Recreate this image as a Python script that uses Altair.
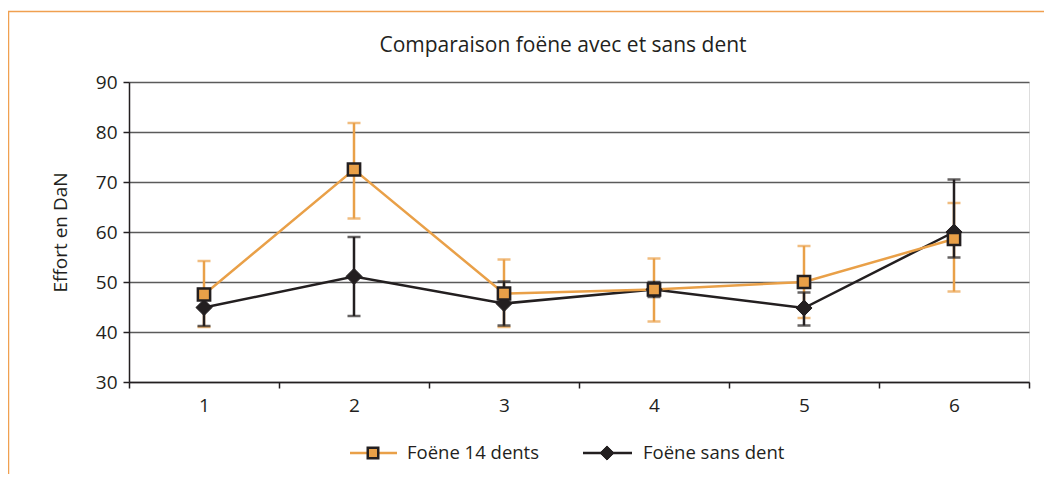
import altair as alt
import pandas as pd

categories = ["1", "2", "3", "4", "5", "6"]
series_names = ["Foëne 14 dents", "Foëne sans dent"]
chart_title = "Comparaison foëne avec et sans dent"

orange_mean = [47.5, 72.5, 47.7, 48.5, 50.0, 58.6]
orange_low = [41.0, 62.7, 41.0, 42.1, 42.8, 48.1]
orange_high = [54.2, 81.8, 54.5, 54.7, 57.2, 65.8]

black_mean = [44.9, 51.1, 45.7, 48.5, 44.8, 60.0]
black_low = [41.2, 43.2, 41.3, 47.0, 41.3, 54.9]
black_high = [48.6, 59.0, 50.1, 50.0, 47.9, 70.5]

ORANGE = "#E9A048"
BLACK = "#231F20"
FONT = "Open Sans"

df_o = pd.DataFrame({"cat": categories, "mean": orange_mean, "low": orange_low, "high": orange_high})
df_b = pd.DataFrame({"cat": categories, "mean": black_mean, "low": black_low, "high": black_high})

x_enc = alt.X("cat:N", sort=categories,
              scale=alt.Scale(type="band", paddingInner=0, paddingOuter=0),
              axis=alt.Axis(title=None, tickBand="extent", labelAngle=0, grid=False,
                            domainColor=BLACK, domainWidth=1.5, tickColor=BLACK,
                            tickWidth=1.5, tickSize=6, labelPadding=8,
                            labelFontSize=19, labelColor=BLACK, labelFont=FONT))
y_scale = alt.Scale(domain=[30, 90], nice=False, zero=False)
y_axis = alt.Axis(title="Effort en DaN", values=[30, 40, 50, 60, 70, 80, 90],
                  grid=True, gridColor="#5a5a5a", gridWidth=1.5,
                  domainColor=BLACK, domainWidth=1.5, tickColor=BLACK, tickWidth=1.5,
                  tickSize=6, labelPadding=6, labelFontSize=19, labelColor=BLACK,
                  labelFont=FONT, titleFont=FONT, titleFontSize=19, titleFontWeight="normal",
                  titleColor=BLACK, titlePadding=25)


def err_layers(df, color):
    base = alt.Chart(df)
    rule = base.mark_rule(color=color, strokeWidth=2.5).encode(
        x=x_enc, y=alt.Y("low:Q", scale=y_scale, axis=y_axis), y2="high:Q")
    cap_lo = base.mark_tick(color=color, thickness=2.5, size=13, orient="horizontal").encode(
        x=x_enc, y=alt.Y("low:Q", scale=y_scale))
    cap_hi = base.mark_tick(color=color, thickness=2.5, size=13, orient="horizontal").encode(
        x=x_enc, y=alt.Y("high:Q", scale=y_scale))
    return rule + cap_lo + cap_hi


def line_layer(df, color):
    return alt.Chart(df).mark_line(color=color, strokeWidth=2.5).encode(
        x=x_enc, y=alt.Y("mean:Q", scale=y_scale, axis=y_axis))


sq = alt.Chart(df_o).mark_point(shape="square", filled=True, fill=ORANGE, stroke=BLACK,
                                strokeWidth=2.5, size=150, opacity=1).encode(
    x=x_enc, y=alt.Y("mean:Q", scale=y_scale))
dia = alt.Chart(df_b).mark_point(shape="diamond", filled=True, fill=BLACK, stroke=BLACK,
                                 strokeWidth=1, size=260, opacity=1).encode(
    x=x_enc, y=alt.Y("mean:Q", scale=y_scale))

# Manual legend and title (layout only)
one = pd.DataFrame({"k": [0]})
lg_y = 371
leg = (
    alt.Chart(one).mark_rule(color=ORANGE, strokeWidth=2.5).encode(
        x=alt.value(221), x2=alt.value(268), y=alt.value(lg_y))
    + alt.Chart(one).mark_point(shape="square", filled=True, fill=ORANGE, stroke=BLACK,
                                strokeWidth=2.5, size=110, opacity=1).encode(
        x=alt.value(244), y=alt.value(lg_y))
    + alt.Chart(one).mark_text(align="left", baseline="middle", font=FONT, fontSize=18.5,
                               color=BLACK).encode(
        x=alt.value(278), y=alt.value(lg_y), text=alt.value(series_names[0]))
    + alt.Chart(one).mark_rule(color=BLACK, strokeWidth=2.5).encode(
        x=alt.value(454), x2=alt.value(503), y=alt.value(lg_y))
    + alt.Chart(one).mark_point(shape="diamond", filled=True, fill=BLACK, stroke=BLACK,
                                strokeWidth=1, size=200, opacity=1).encode(
        x=alt.value(478), y=alt.value(lg_y))
    + alt.Chart(one).mark_text(align="left", baseline="middle", font=FONT, fontSize=18.5,
                               color=BLACK).encode(
        x=alt.value(514), y=alt.value(lg_y), text=alt.value(series_names[1]))
)

title_mark = alt.Chart(one).mark_text(align="center", baseline="middle", font=FONT,
                                      fontSize=21, color=BLACK).encode(
    x=alt.value(434), y=alt.value(-36), text=alt.value(chart_title))

frame = alt.Chart(one).mark_rect(fill=None, stroke="#F0A050", strokeWidth=1.5).encode(
    x=alt.value(-120.5), y=alt.value(-70.5), x2=alt.value(1000), y2=alt.value(500))

chart = alt.layer(
    frame,
    err_layers(df_o, ORANGE),
    err_layers(df_b, BLACK),
    line_layer(df_b, BLACK),
    line_layer(df_o, ORANGE),
    dia,
    sq,
    leg,
    title_mark,
).properties(
    width=900, height=300,
    autosize=alt.AutoSizeParams(type="none"),
    padding={"left": 121, "top": 74, "right": 15, "bottom": 92},
).configure_view(stroke="#6a6a6a", strokeWidth=1.5).configure(background="white")

chart.save("out.html", embed_options={"renderer": "svg", "actions": False})
